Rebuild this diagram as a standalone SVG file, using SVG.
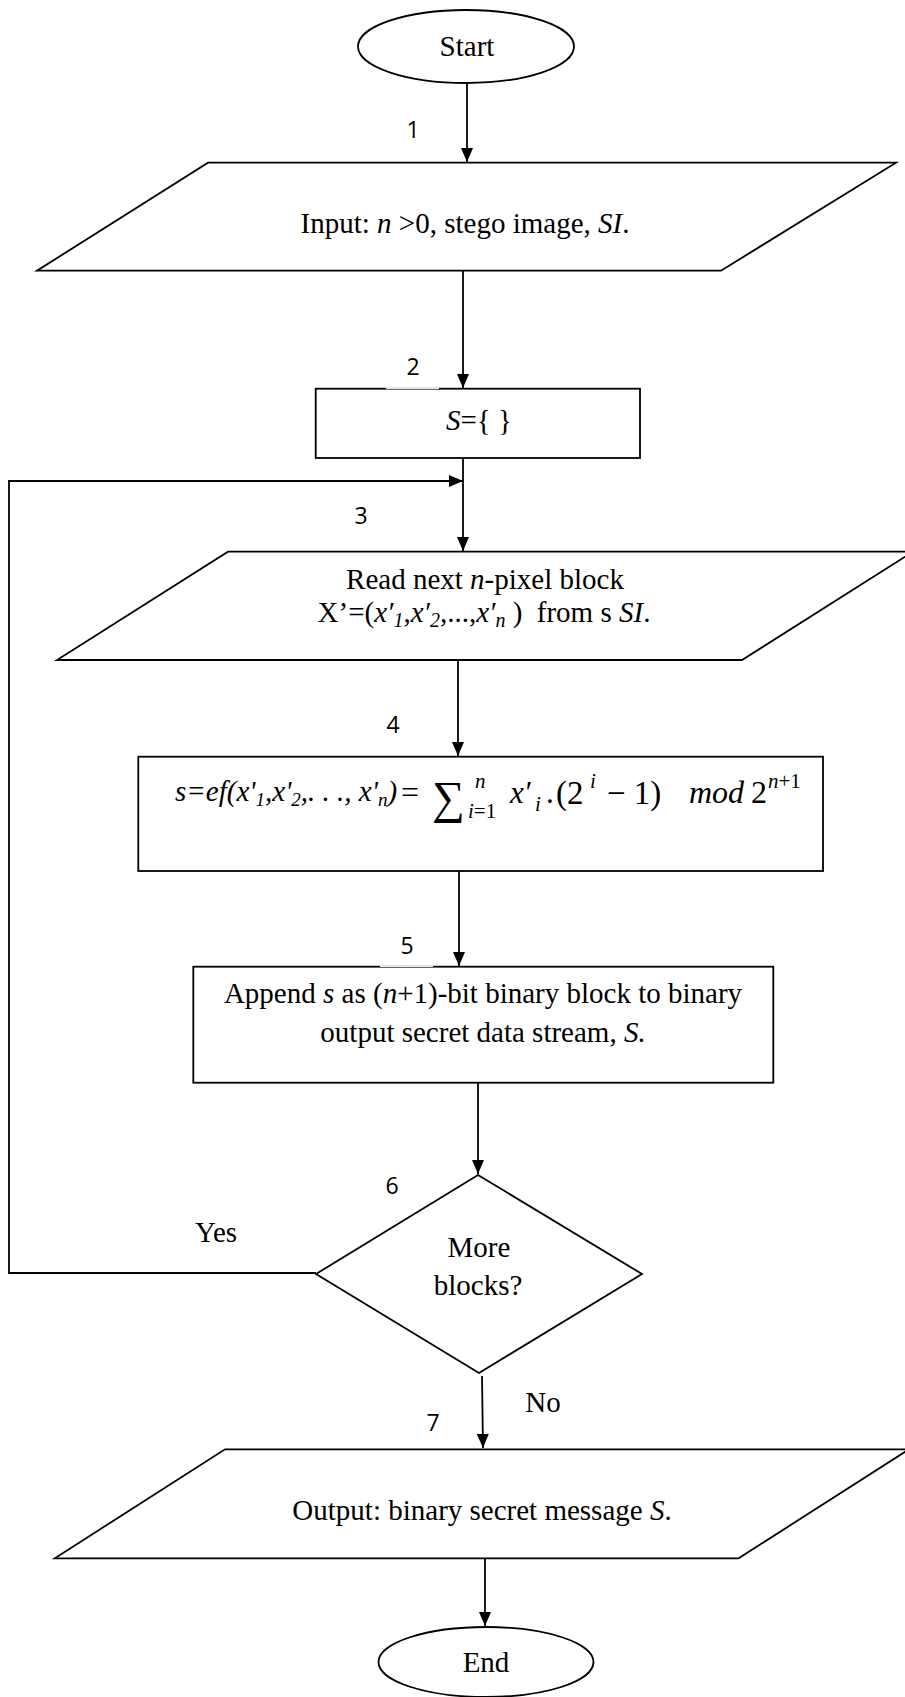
<svg xmlns="http://www.w3.org/2000/svg" width="905" height="1697" viewBox="0 0 905 1697">
  <defs>
    <style>
      .shape { fill: #fff; stroke: #000; stroke-width: 1.8; }
      .ln { fill: none; stroke: #000; stroke-width: 1.8; }
      .t { font-family: "Liberation Serif", "Times New Roman", serif; font-size: 29px; fill: #000; white-space: pre; }
      .m { font-family: "Liberation Serif", "Times New Roman", serif; fill: #000; }
      .num { font-family: "Open Sans", "Liberation Sans", sans-serif; font-size: 23px; fill: #000; text-anchor: middle; }
      .c { text-anchor: middle; }
      .i { font-style: italic; }
    </style>
    <marker id="arrow" markerUnits="userSpaceOnUse" markerWidth="14" markerHeight="12" refX="14" refY="6" orient="auto">
      <path d="M0,0 L14,6 L0,12 Z" fill="#000"/>
    </marker>
  </defs>

  <rect width="905" height="1697" fill="#fff"/>

  <!-- connectors -->
  <g id="connectors">
    <line class="ln" x1="467" y1="83" x2="467" y2="162" marker-end="url(#arrow)"/>
    <line class="ln" x1="463" y1="271" x2="463" y2="388" marker-end="url(#arrow)"/>
    <line class="ln" x1="463" y1="458" x2="463" y2="551" marker-end="url(#arrow)"/>
    <polyline class="ln" points="316,1273 9,1273 9,481 463,481" marker-end="url(#arrow)"/>
    <line class="ln" x1="458" y1="660" x2="458" y2="756" marker-end="url(#arrow)"/>
    <line class="ln" x1="459" y1="871" x2="459" y2="966" marker-end="url(#arrow)"/>
    <line class="ln" x1="478" y1="1083" x2="478" y2="1174" marker-end="url(#arrow)"/>
    <line class="ln" x1="482" y1="1376" x2="483" y2="1448" marker-end="url(#arrow)"/>
    <line class="ln" x1="485" y1="1558" x2="485" y2="1626" marker-end="url(#arrow)"/>
  </g>

  <!-- start terminal -->
  <g id="start">
    <ellipse class="shape" cx="466" cy="46.5" rx="108" ry="36.5"/>
    <text class="t c" x="467" y="56">Start</text>
  </g>

  <!-- step 1: input -->
  <g id="input">
    <polygon class="shape" points="208,162.7 896,162.7 721,270.7 37,270.7"/>
    <text class="t c" x="465" y="233">Input: <tspan class="i">n</tspan> &gt;0, stego image, <tspan class="i">SI</tspan>.</text>
  </g>

  <!-- step 2: init -->
  <g id="init">
    <rect class="shape" x="315.7" y="388.7" width="324.3" height="69.3"/>
    <text class="t c" x="479" y="430"><tspan class="i">S</tspan>={ }</text>
  </g>

  <!-- step 3: read block -->
  <g id="read">
    <polygon class="shape" points="228,551.7 913,551.7 742,660 57,660"/>
    <text class="t c" x="485" y="589">Read next <tspan class="i">n</tspan>-pixel block</text>
    <text class="t c" x="484" y="622">X’=(<tspan class="i">x′</tspan><tspan class="i" font-size="20" dy="5">1</tspan><tspan dy="-5">,</tspan><tspan class="i">x′</tspan><tspan class="i" font-size="20" dy="5">2</tspan><tspan dy="-5">,...,</tspan><tspan class="i">x′</tspan><tspan class="i" font-size="20" dy="5">n</tspan><tspan dy="-5"> )  from s </tspan><tspan class="i">SI</tspan>.</text>
  </g>

  <!-- step 4: extraction function -->
  <g id="extract">
    <rect class="shape" x="138.3" y="756.7" width="684.7" height="114.3"/>
    <text class="t i" x="175" y="801">s=ef(x'<tspan font-size="19" dy="5">1</tspan><tspan dy="-5">,x'</tspan><tspan font-size="19" dy="5">2</tspan><tspan dy="-5">,. . ., x'</tspan><tspan font-size="19" dy="5">n</tspan><tspan dy="-5">)</tspan></text>
    <text class="m" font-size="32" x="401" y="803">=</text>
    <text class="m" font-size="46" x="432" y="813">∑</text>
    <text class="m i" font-size="21" x="475" y="788">n</text>
    <text class="m" font-size="21" x="468" y="818"><tspan class="i">i</tspan>=1</text>
    <text class="m i" font-size="31" x="510" y="803">x′</text>
    <text class="m i" font-size="21" x="535" y="811">i</text>
    <text class="m" font-size="31" x="546" y="803">.</text>
    <text class="m" font-size="33" x="556" y="804">(2</text>
    <text class="m i" font-size="21" x="590" y="788">i</text>
    <text class="m" font-size="33" x="607" y="804">− 1)</text>
    <text class="m i" font-size="32" x="689" y="803">mod</text>
    <text class="m" font-size="32" x="751" y="803">2</text>
    <text class="m i" font-size="21" x="768" y="788">n<tspan font-style="normal">+1</tspan></text>
  </g>

  <!-- step 5: append -->
  <g id="append">
    <rect class="shape" x="193.3" y="966.7" width="580" height="116"/>
    <text class="t c" x="483" y="1003">Append <tspan class="i">s</tspan> as (<tspan class="i">n</tspan>+1)-bit binary block to binary</text>
    <text class="t c" x="483" y="1042">output secret data stream, <tspan class="i">S.</tspan></text>
  </g>

  <!-- step 6: decision -->
  <g id="decision">
    <polygon class="shape" points="478,1175 642,1274 479,1373 316,1274"/>
    <text class="t c" x="479" y="1257">More</text>
    <text class="t c" x="478" y="1295">blocks?</text>
  </g>

  <!-- branch labels -->
  <g id="branch-labels">
    <text class="t c" x="216" y="1242">Yes</text>
    <text class="t c" x="543" y="1412">No</text>
  </g>

  <!-- step 7: output -->
  <g id="output">
    <polygon class="shape" points="225,1449.3 909,1449.3 738.6,1558.3 54.8,1558.3"/>
    <text class="t c" x="482" y="1520">Output: binary secret message <tspan class="i">S</tspan>.</text>
  </g>

  <!-- end terminal -->
  <g id="end">
    <ellipse class="shape" cx="486" cy="1662" rx="107.5" ry="35"/>
    <text class="t c" x="486" y="1672">End</text>
  </g>

  <!-- step numbers -->
  <g id="step-numbers">
    <text class="num" x="413" y="138">1</text>
    <rect x="386" y="387.5" width="53" height="1.4" fill="#fff"/>
    <text class="num" x="413" y="375">2</text>
    <text class="num" x="361" y="524">3</text>
    <text class="num" x="393" y="733">4</text>
    <rect x="380" y="965.5" width="53" height="1.4" fill="#fff"/>
    <text class="num" x="407" y="954">5</text>
    <text class="num" x="392" y="1194">6</text>
    <text class="num" x="433" y="1431">7</text>
  </g>
</svg>
